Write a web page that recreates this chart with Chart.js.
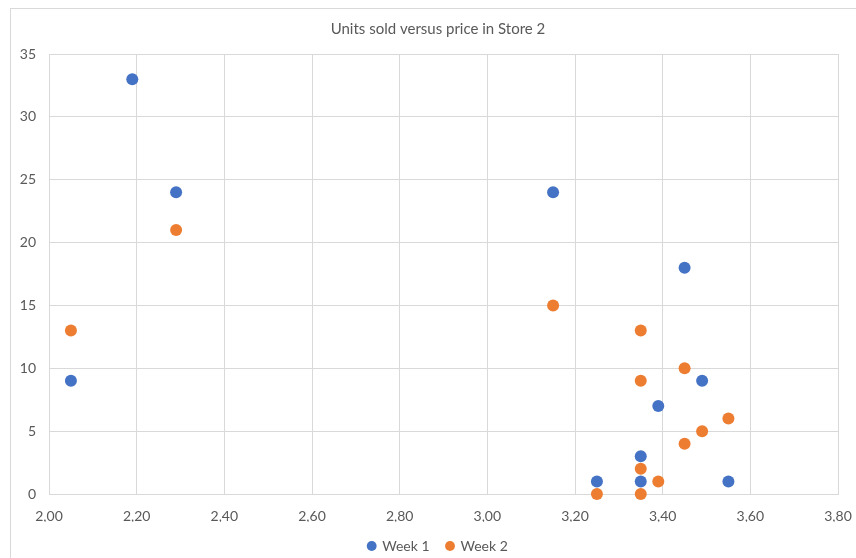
<!DOCTYPE html>
<html>
<head>
<meta charset="utf-8">
<script src="https://cdn.jsdelivr.net/npm/chart.js@4/dist/chart.umd.min.js"></script>
<style>
  html, body { margin: 0; padding: 0; background: #ffffff; overflow: hidden; }
  #wrap { position: relative; width: 876px; height: 564px; }
</style>
</head>
<body>
<div id="wrap"><canvas id="chart" width="876" height="564"></canvas></div>
<script>
// Price (x) and units sold (y) per observation
const week1Price = [2.19, 2.29, 2.05, 3.15, 3.45, 3.49, 3.39, 3.35, 3.35, 3.25, 3.55];
const week1Units = [33, 24, 9, 24, 18, 9, 7, 3, 1, 1, 1];
const week2Price = [2.05, 2.29, 3.15, 3.35, 3.35, 3.45, 3.55, 3.49, 3.45, 3.35, 3.39, 3.25, 3.35];
const week2Units = [13, 21, 15, 13, 9, 10, 6, 5, 4, 2, 1, 0, 0];

const seriesNames = ['Week 1', 'Week 2'];
const chartTitle = 'Units sold versus price in Store 2';

// Axis ranges and tick spacing
const priceTicks = { min: 2.0, max: 3.8, step: 0.2 };
const unitTicks = { min: 0, max: 35, step: 5 };

const FONT = 'Lato, "Open Sans", sans-serif';
const TEXT = '#595959';
const GRID = '#d9d9d9';

function toPoints(xs, ys) {
  return xs.map((x, i) => ({ x: x, y: ys[i] }));
}

// Thin outer frame around the whole chart
const framePlugin = {
  id: 'frame',
  beforeDraw(chart) {
    const ctx = chart.ctx;
    ctx.save();
    ctx.strokeStyle = GRID;
    ctx.lineWidth = 1;
    ctx.strokeRect(10.5, 8.5, 900, 600);
    ctx.restore();
  }
};

new Chart(document.getElementById('chart'), {
  type: 'scatter',
  data: {
    datasets: [
      {
        label: seriesNames[0],
        data: toPoints(week1Price, week1Units),
        backgroundColor: '#4472C4',
        borderColor: '#4472C4',
        pointRadius: 6,
        pointHoverRadius: 6,
        borderWidth: 0,
        clip: false
      },
      {
        label: seriesNames[1],
        data: toPoints(week2Price, week2Units),
        backgroundColor: '#ED7D31',
        borderColor: '#ED7D31',
        pointRadius: 6,
        pointHoverRadius: 6,
        borderWidth: 0,
        clip: false
      }
    ]
  },
  options: {
    responsive: false,
    animation: false,
    devicePixelRatio: 1,
    layout: { padding: { left: 0, right: 0, top: 0, bottom: 1 } },
    plugins: {
      title: {
        display: true,
        text: chartTitle,
        color: TEXT,
        font: { family: FONT, size: 15, weight: 'normal' },
        padding: { top: 20, bottom: 16 }
      },
      legend: {
        position: 'bottom',
        labels: {
          color: TEXT,
          font: { family: FONT, size: 14 },
          usePointStyle: true,
          pointStyle: 'circle',
          boxWidth: 7,
          boxHeight: 7,
          padding: 17
        }
      },
      tooltip: { enabled: false }
    },
    scales: {
      x: {
        type: 'linear',
        min: priceTicks.min,
        max: priceTicks.max,
        grid: { color: GRID, drawTicks: false },
        border: { color: GRID },
        ticks: {
          stepSize: priceTicks.step,
          color: TEXT,
          font: { family: FONT, size: 14 },
          padding: 14,
          maxRotation: 0,
          callback: v => Number(v).toFixed(2).replace('.', ',')
        },
        afterFit(scale) { scale.height = 28; }
      },
      y: {
        type: 'linear',
        min: unitTicks.min,
        max: unitTicks.max,
        grid: { color: GRID, drawTicks: false },
        border: { color: GRID },
        ticks: {
          stepSize: unitTicks.step,
          color: TEXT,
          font: { family: FONT, size: 14 },
          padding: 13
        },
        afterFit(scale) { scale.width = 49; }
      },
      // Empty right-hand margin beside the plot area
      yRight: {
        type: 'linear',
        position: 'right',
        min: unitTicks.min,
        max: unitTicks.max,
        grid: { display: false, drawOnChartArea: false },
        border: { display: false },
        ticks: { display: false },
        afterFit(scale) { scale.width = 38; }
      }
    }
  },
  plugins: [framePlugin]
});
</script>
</body>
</html>
